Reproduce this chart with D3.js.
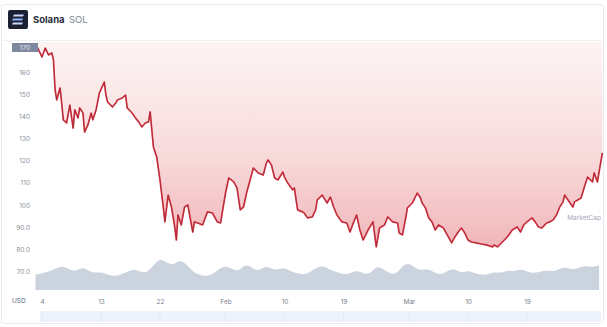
<!DOCTYPE html>
<html><head><meta charset="utf-8">
<script src="https://cdn.jsdelivr.net/npm/d3@7"></script>
<style>
html,body{margin:0;padding:0;background:#fff;}
svg{display:block;font-family:Inter,"Open Sans",sans-serif;}
</style></head>
<body>
<svg id="chart" width="607" height="327"></svg>
<script>
// ---- data ----
const title = "Solana";
const symbol = "SOL";
const currency = "USD";
const priceLabel = "170";
const watermark = "MarketCap";

const priceTimes = [
"2022-01-02T12:00","2022-01-03T06:00","2022-01-04T00:00","2022-01-04T12:00","2022-01-05T00:00","2022-01-05T12:00","2022-01-05T18:00",
"2022-01-06T00:00","2022-01-06T06:00","2022-01-06T18:00","2022-01-07T00:00","2022-01-07T06:00","2022-01-07T18:00","2022-01-08T06:00",
"2022-01-08T18:00","2022-01-09T00:00","2022-01-09T12:00","2022-01-09T18:00","2022-01-10T06:00","2022-01-10T12:00","2022-01-11T00:00",
"2022-01-11T12:00","2022-01-11T18:00","2022-01-12T06:00","2022-01-12T18:00","2022-01-13T12:00","2022-01-13T18:00","2022-01-14T00:00",
"2022-01-14T18:00","2022-01-15T06:00","2022-01-15T12:00","2022-01-16T06:00","2022-01-16T18:00","2022-01-17T00:00","2022-01-17T18:00",
"2022-01-18T06:00","2022-01-18T18:00","2022-01-19T06:00","2022-01-19T18:00","2022-01-20T06:00","2022-01-20T12:00","2022-01-21T00:00",
"2022-01-21T12:00","2022-01-22T00:00","2022-01-22T12:00","2022-01-22T18:00","2022-01-23T06:00","2022-01-23T18:00","2022-01-24T06:00",
"2022-01-24T12:00","2022-01-24T18:00","2022-01-25T06:00","2022-01-25T18:00","2022-01-26T06:00","2022-01-27T00:00","2022-01-27T06:00",
"2022-01-27T18:00","2022-01-28T12:00","2022-01-29T06:00","2022-01-30T00:00","2022-01-30T18:00","2022-01-31T06:00","2022-02-01T00:00",
"2022-02-01T12:00","2022-02-02T06:00","2022-02-02T18:00","2022-02-03T06:00","2022-02-03T18:00","2022-02-04T06:00","2022-02-04T18:00",
"2022-02-05T06:00","2022-02-06T00:00","2022-02-06T18:00","2022-02-07T06:00","2022-02-07T12:00","2022-02-08T00:00","2022-02-08T12:00",
"2022-02-09T00:00","2022-02-09T18:00","2022-02-10T00:00","2022-02-10T12:00","2022-02-11T06:00","2022-02-11T12:00","2022-02-12T00:00",
"2022-02-12T18:00","2022-02-13T00:00","2022-02-13T12:00","2022-02-14T06:00","2022-02-14T18:00","2022-02-15T00:00","2022-02-15T18:00",
"2022-02-16T12:00","2022-02-17T00:00","2022-02-17T12:00","2022-02-18T00:00","2022-02-18T18:00","2022-02-19T12:00","2022-02-20T00:00",
"2022-02-20T12:00","2022-02-21T00:00","2022-02-21T12:00","2022-02-22T00:00","2022-02-22T18:00","2022-02-23T12:00","2022-02-24T00:00",
"2022-02-24T12:00","2022-02-25T06:00","2022-02-25T18:00","2022-02-26T12:00","2022-02-27T06:00","2022-02-27T12:00","2022-02-28T00:00",
"2022-02-28T12:00","2022-02-28T18:00","2022-03-01T12:00","2022-03-02T06:00","2022-03-02T18:00","2022-03-03T00:00","2022-03-03T12:00",
"2022-03-04T00:00","2022-03-04T12:00","2022-03-05T00:00","2022-03-05T12:00","2022-03-06T06:00","2022-03-07T00:00","2022-03-07T12:00",
"2022-03-08T00:00","2022-03-08T12:00","2022-03-09T00:00","2022-03-09T12:00","2022-03-10T00:00","2022-03-10T12:00","2022-03-11T06:00",
"2022-03-12T00:00","2022-03-12T18:00","2022-03-13T18:00","2022-03-14T00:00","2022-03-14T12:00","2022-03-15T06:00","2022-03-16T00:00",
"2022-03-16T18:00","2022-03-17T12:00","2022-03-18T00:00","2022-03-18T12:00","2022-03-19T00:00","2022-03-19T18:00","2022-03-20T06:00",
"2022-03-20T18:00","2022-03-21T06:00","2022-03-22T00:00","2022-03-22T12:00","2022-03-23T00:00","2022-03-23T12:00","2022-03-24T00:00",
"2022-03-24T12:00","2022-03-24T18:00","2022-03-25T06:00","2022-03-26T00:00","2022-03-26T06:00","2022-03-26T18:00","2022-03-27T06:00",
"2022-03-27T18:00","2022-03-28T06:00","2022-03-29T00:00","2022-03-29T06:00","2022-03-29T18:00","2022-03-30T00:00","2022-03-30T12:00"
];
const priceValues = [
171.7,171.3,166.8,170.8,167.7,168.6,165.4,
151.9,147.4,152.8,146.0,138.4,137.0,145.1,
134.7,142.9,139.3,143.8,141.5,132.9,136.1,
141.5,138.4,142.9,150.5,155.5,149.6,146.5,
144.2,146.0,147.4,148.3,149.6,143.8,141.5,
139.3,137.5,135.2,137.0,137.5,142.0,126.2,
121.7,111.3,99.1,92.4,104.5,99.1,90.1,
84.2,95.5,91.0,99.1,100.0,87.8,92.4,
91.9,91.0,96.9,96.4,92.4,91.9,105.4,
112.2,110.4,107.7,97.8,99.1,105.9,111.3,
116.7,114.4,113.5,119.0,120.3,118.1,112.2,
111.3,114.9,112.6,109.9,106.8,107.7,97.8,
96.9,96.4,94.2,94.6,97.8,102.3,104.5,
100.9,103.6,99.1,95.5,92.4,91.9,87.8,
91.9,95.5,88.7,84.2,88.7,92.4,81.1,
89.6,91.0,94.6,92.4,91.9,87.4,86.5,
94.2,98.7,100.9,105.4,103.2,100.9,98.7,
94.2,92.4,88.7,91.0,89.6,85.6,82.9,
85.6,87.8,89.6,87.4,84.2,83.3,82.9,
82.4,82.0,81.1,82.0,81.1,83.3,85.6,
88.7,90.1,87.8,91.0,92.4,94.2,92.4,
90.1,89.6,91.9,92.4,93.3,95.5,99.1,
101.4,104.5,102.3,99.1,101.4,102.3,103.2,
108.1,112.6,110.4,114.5,110.4,114.9,123.5
];

const volumeDays = [
"2022-01-03","2022-01-04","2022-01-05","2022-01-06","2022-01-07","2022-01-08","2022-01-09","2022-01-10","2022-01-11","2022-01-12",
"2022-01-13","2022-01-14","2022-01-15","2022-01-16","2022-01-17","2022-01-18","2022-01-19","2022-01-20","2022-01-21","2022-01-22",
"2022-01-23","2022-01-24","2022-01-25","2022-01-26","2022-01-27","2022-01-28","2022-01-29","2022-01-30","2022-01-31","2022-02-01",
"2022-02-02","2022-02-03","2022-02-04","2022-02-05","2022-02-06","2022-02-07","2022-02-08","2022-02-09","2022-02-10","2022-02-11",
"2022-02-12","2022-02-13","2022-02-14","2022-02-15","2022-02-16","2022-02-17","2022-02-18","2022-02-19","2022-02-20","2022-02-21",
"2022-02-22","2022-02-23","2022-02-24","2022-02-25","2022-02-26","2022-02-27","2022-02-28","2022-03-01","2022-03-02","2022-03-03",
"2022-03-04","2022-03-05","2022-03-06","2022-03-07","2022-03-08","2022-03-09","2022-03-10","2022-03-11","2022-03-12","2022-03-13",
"2022-03-14","2022-03-15","2022-03-16","2022-03-17","2022-03-18","2022-03-19","2022-03-20","2022-03-21","2022-03-22","2022-03-23",
"2022-03-24","2022-03-25","2022-03-26","2022-03-27","2022-03-28","2022-03-29","2022-03-30"
];
const volumeValues = [
5,5.5,6,7,8,7,6,7.5,6.5,5.5,
6,5,4.5,5,6,7,6,5.5,8,10.5,
9,8,10,8.5,6,5,4.5,5,7,8,
7,6,8.5,7.5,6,8,7,6.5,7.5,6,
5.5,5,6,7.5,8,6.5,6,5,5.5,6.5,
5.5,5,8,7,5.5,5,8,9,7,6.5,
7,5.5,5,6.5,7,5.5,6.5,5.5,5,5,
6,5.5,6.5,6,7,6,5.5,6,6.5,6,
7,7.5,6.5,7.5,8,7.5,8
];

const yTickValues = [160,150,140,130,120,110,100,90,80,70];
const yTickLabels = ["160","150","140","130","120","110","100","90.0","80.0","70.0"];
const xTickDates = ["2022-01-04","2022-01-13","2022-01-22","2022-02-01","2022-02-10","2022-02-19","2022-03-01","2022-03-10","2022-03-19"];
const xTickLabels = ["4","13","22","Feb","10","19","Mar","10","19"];

// ---- build ----
const parseT = d3.timeParse("%Y-%m-%dT%H:%M");
const parseD = d3.timeParse("%Y-%m-%d");
const price = priceTimes.map((t,i)=>({t:parseT(t), v:priceValues[i]}));
const vol = volumeDays.map((t,i)=>({t:parseD(t), v:volumeValues[i]}));
const xTicks = xTickDates.map(parseD);

const svg = d3.select("#chart");
const plotTop = 42, plotBottom = 290;

const x = d3.scaleTime().domain([parseD("2022-01-04"), parseD("2022-03-19")]).range([42, 527]);
const y = d3.scaleLinear().domain([70,160]).range([271.5,72]);
const yv = d3.scaleLinear().domain([0,10.5]).range([plotBottom, 258]);

const defs = svg.append("defs");
const g1 = defs.append("linearGradient").attr("id","pinkFill")
  .attr("gradientUnits","userSpaceOnUse").attr("x1",0).attr("x2",0).attr("y1",plotTop).attr("y2",255);
g1.append("stop").attr("offset","0%").attr("stop-color","#fdf4f4");
g1.append("stop").attr("offset","55%").attr("stop-color","#f8d9da");
g1.append("stop").attr("offset","100%").attr("stop-color","#f0b3b7");

// card
svg.append("rect").attr("x",1.5).attr("y",4.5).attr("width",602).attr("height",319).attr("rx",3)
  .attr("fill","#fff").attr("stroke","#e9eaef");

// header logo
const logo = svg.append("g").attr("transform","translate(8,10)");
logo.append("rect").attr("width",20).attr("height",19).attr("rx",2).attr("fill","#1b2033");
logo.append("path").attr("d","M6,4.5 L16,4.5 L15,6.5 L5,6.5 Z").attr("fill","#c9d8ff");
logo.append("path").attr("d","M5,8.5 L15,8.5 L14,10.5 L4,10.5 Z").attr("fill","#8fb4ff");
logo.append("path").attr("d","M5,12.5 L15,12.5 L14,14.5 L4,14.5 Z").attr("fill","#c9d8ff");
svg.append("text").attr("x",33).attr("y",23).attr("font-size",9.5).attr("font-weight",700).attr("fill","#2a2d3a").text(title);
svg.append("text").attr("x",69).attr("y",23).attr("font-size",9.5).attr("fill","#7c8090").text(symbol);

// plot top separator
svg.append("line").attr("x1",2).attr("x2",603).attr("y1",plotTop-1.5).attr("y2",plotTop-1.5).attr("stroke","#eef0f4");

// pink area above the price line
svg.append("path").datum(price)
  .attr("d", d3.area().x(d=>x(d.t)).y0(plotTop).y1(d=>y(d.v)))
  .attr("fill","url(#pinkFill)");

// volume area
svg.append("path").datum(vol)
  .attr("d", d3.area().curve(d3.curveBasis).x(d=>x(d.t)).y0(plotBottom).y1(d=>yv(d.v)))
  .attr("fill","#cbd3de");

// price line
const line = d3.line().x(d=>x(d.t)).y(d=>y(d.v));
svg.append("path").datum(price).attr("d",line).attr("fill","none")
  .attr("stroke","#dc3b48").attr("stroke-width",1.7).attr("stroke-linejoin","round");
svg.append("path").datum(price).attr("d",line).attr("fill","none")
  .attr("stroke","#7e1a27").attr("stroke-width",0.6).attr("stroke-opacity",0.75).attr("stroke-linejoin","round");

// watermark
svg.append("text").attr("x",601).attr("y",220).attr("text-anchor","end").attr("font-size",6.5)
  .attr("fill","#a3a8b3").text(watermark);

// y axis
const yAxis = d3.axisLeft(y).tickValues(yTickValues).tickSize(0).tickPadding(0)
  .tickFormat((d,i)=>yTickLabels[i]);
const ya = svg.append("g").attr("transform","translate(30,0)").call(yAxis);
ya.select(".domain").remove();
ya.selectAll("text").attr("font-size",6.5).attr("fill","#8a8f9b").attr("font-family","Inter,sans-serif");

// current price box
svg.append("rect").attr("x",12).attr("y",43).attr("width",26).attr("height",9).attr("fill","#7e879f");
svg.append("text").attr("x",25).attr("y",50).attr("text-anchor","middle").attr("font-size",6.5)
  .attr("fill","#e8ebf2").text(priceLabel);

// x axis
const xAxis = d3.axisBottom(x).tickValues(xTicks).tickSize(0).tickPadding(4)
  .tickFormat((d,i)=>xTickLabels[i]);
const xa = svg.append("g").attr("transform",`translate(0,${plotBottom+5})`).call(xAxis);
xa.select(".domain").remove();
xa.selectAll("text").attr("font-size",6.5).attr("fill","#7a7f8c").attr("font-family","Inter,sans-serif");
svg.append("text").attr("x",12).attr("y",303).attr("font-size",6.5).attr("fill","#5b6175").text(currency);

// navigator band
svg.append("rect").attr("x",40).attr("y",311).attr("width",561).attr("height",11).attr("fill","#eef3fb");
svg.append("g").selectAll("line").data(xTicks).join("line")
  .attr("x1",d=>x(d)).attr("x2",d=>x(d)).attr("y1",311).attr("y2",322)
  .attr("stroke","#e0e7f2").attr("stroke-width",0.8);
</script>
</body></html>
